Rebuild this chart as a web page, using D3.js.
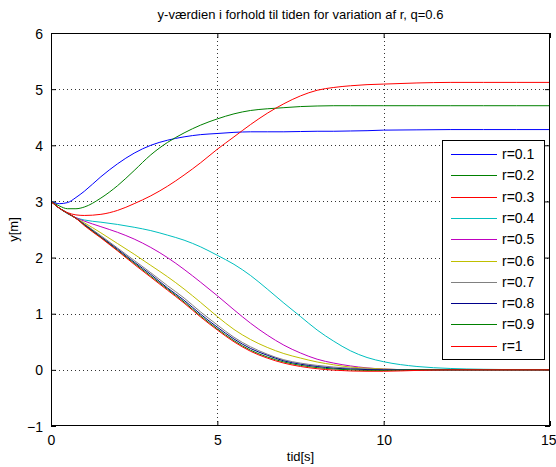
<!DOCTYPE html>
<html><head><meta charset="utf-8">
<script src="https://cdn.jsdelivr.net/npm/d3@7/dist/d3.min.js"></script>
<style>
body{margin:0;background:#fff;}
text{font-family:"Liberation Sans",Arial,sans-serif;fill:#000;}
</style></head>
<body><svg id="c" width="556" height="467"></svg>
<script>
const title = "y-værdien i forhold til tiden for variation af r, q=0.6";
const xLabel = "tid[s]";
const yLabel = "y[m]";
const xTicks = [0, 5, 10, 15];
const yTicks = [-1, 0, 1, 2, 3, 4, 5, 6];
const time = [0,0.25,0.5,0.75,1,1.5,2,2.5,3,3.5,4,4.5,5,5.5,6,6.5,7,7.5,8,8.5,9,9.5,10,11,12,13,14,15];
const seriesNames = ["r=0.1","r=0.2","r=0.3","r=0.4","r=0.5","r=0.6","r=0.7","r=0.8","r=0.9","r=1"];
const seriesColors = ["#0000ff","#008000","#ff0000","#00bfbf","#bf00bf","#bfbf00","#808080","#00008b","#008000","#ff0000"];
const r01 = [3.00,2.96,2.98,3.07,3.18,3.44,3.67,3.86,4.00,4.09,4.15,4.19,4.21,4.23,4.24,4.24,4.24,4.245,4.25,4.25,4.255,4.26,4.27,4.275,4.28,4.28,4.28,4.28];
const r02 = [3.00,2.92,2.87,2.87,2.90,3.06,3.28,3.55,3.83,4.05,4.22,4.36,4.47,4.56,4.62,4.65,4.67,4.69,4.70,4.705,4.705,4.705,4.705,4.705,4.705,4.705,4.705,4.705];
const r03 = [3.00,2.88,2.80,2.76,2.75,2.77,2.84,2.96,3.10,3.27,3.47,3.69,3.93,4.15,4.37,4.57,4.74,4.88,4.98,5.03,5.06,5.08,5.09,5.11,5.12,5.12,5.12,5.12];
const r04 = [3.00,2.88,2.78,2.71,2.67,2.63,2.59,2.54,2.48,2.40,2.31,2.19,2.04,1.88,1.68,1.44,1.19,0.95,0.71,0.51,0.34,0.22,0.145,0.06,0.025,0.01,0.003,0];
const r05 = [3.00,2.88,2.79,2.71,2.65,2.55,2.45,2.33,2.18,2.00,1.79,1.56,1.32,1.07,0.83,0.62,0.44,0.30,0.19,0.12,0.07,0.035,0.015,0,0,0,0,0];
const r06 = [3.00,2.88,2.79,2.70,2.62,2.44,2.25,2.06,1.86,1.66,1.44,1.20,0.95,0.72,0.54,0.40,0.29,0.21,0.14,0.09,0.05,0.03,0.015,0,0,0,0,0];
const r07 = [3.00,2.88,2.79,2.70,2.60,2.39,2.17,1.95,1.73,1.50,1.28,1.03,0.80,0.58,0.41,0.28,0.18,0.12,0.08,0.05,0.03,0.015,0.005,0,0,0,0,0];
const r08 = [3.00,2.88,2.79,2.70,2.59,2.37,2.15,1.92,1.70,1.46,1.24,0.99,0.76,0.55,0.38,0.26,0.16,0.10,0.06,0.03,0.015,0.005,0,0,0,0,0,0];
const r09 = [3.00,2.88,2.79,2.70,2.58,2.36,2.13,1.90,1.67,1.44,1.21,0.96,0.73,0.52,0.35,0.23,0.14,0.08,0.04,0.015,0,-0.01,-0.01,0,0,0,0,0];
const r10 = [3.00,2.88,2.79,2.70,2.57,2.35,2.12,1.88,1.65,1.42,1.19,0.94,0.71,0.50,0.33,0.21,0.12,0.06,0.02,-0.005,-0.02,-0.025,-0.025,-0.01,0,0,0,0];
const seriesValues = [r01,r02,r03,r04,r05,r06,r07,r08,r09,r10];

const svg = d3.select("#c");
const L = 51, R = 550, T = 33, B = 426;
const x = d3.scaleLinear().domain([0,15]).range([L,R]);
const y = d3.scaleLinear().domain([-1,6]).range([B,T]);

// grid
const g = svg.append("g");
g.selectAll("line.gx").data(xTicks.slice(1,-1)).enter().append("line")
  .attr("x1",d=>Math.round(x(d))+0.5).attr("x2",d=>Math.round(x(d))+0.5)
  .attr("y1",T).attr("y2",B).attr("stroke","#333").attr("stroke-dasharray","1,3");
g.selectAll("line.gy").data(yTicks.slice(1,-1)).enter().append("line")
  .attr("y1",d=>Math.round(y(d))+0.5).attr("y2",d=>Math.round(y(d))+0.5)
  .attr("x1",L).attr("x2",R).attr("stroke","#333").attr("stroke-dasharray","1,3");

// axes (MATLAB style, inward ticks, box)
const tick = 5;
const fs = 14;
const ax = svg.append("g").attr("transform",`translate(0,${B})`)
  .call(d3.axisBottom(x).tickValues(xTicks).tickSize(-tick).tickPadding(tick+4).tickFormat(d3.format("d")));
const axT = svg.append("g").attr("transform",`translate(0,${T})`)
  .call(d3.axisTop(x).tickValues(xTicks).tickSize(-tick).tickFormat(""));
const ay = svg.append("g").attr("transform",`translate(${L},0)`)
  .call(d3.axisLeft(y).tickValues(yTicks).tickSize(-tick).tickPadding(tick+3).tickFormat(d3.format("d")));
const ayR = svg.append("g").attr("transform",`translate(${R},0)`)
  .call(d3.axisRight(y).tickValues(yTicks).tickSize(-tick).tickFormat(""));
[ax,axT,ay,ayR].forEach(a=>{
  a.select(".domain").remove();
  a.selectAll("line").attr("stroke","#000");
  a.selectAll("text").style("font-family","'Liberation Sans',Arial,sans-serif").style("font-size",fs+"px").attr("fill","#000");
});
ay.selectAll("text").attr("dy","0.36em");
// last x tick label: keep inside the picture like the reference (partly at edge)
ax.selectAll("text").filter(d=>d===15).attr("text-anchor","end").attr("dx","6");

// lines
const line = d3.line().x((d,i)=>x(time[i])).y(d=>y(d)).curve(d3.curveMonotoneX);
const lg = svg.append("g");
seriesValues.forEach((vals,k)=>{
  lg.append("path").datum(vals).attr("d",line).attr("fill","none")
    .attr("stroke",seriesColors[k]).attr("stroke-width",1);
});

// box
svg.append("rect").attr("x",L+0.5).attr("y",T+0.5).attr("width",R-L-1).attr("height",B-T-1)
  .attr("fill","none").attr("stroke","#000").attr("stroke-width",1);

// labels
svg.append("text").attr("x",(L+R)/2).attr("y",19).attr("text-anchor","middle").style("font-size","13px").text(title);
svg.append("text").attr("x",(L+R)/2).attr("y",461).attr("text-anchor","middle").style("font-size","13px").text(xLabel);
svg.append("text").attr("transform",`translate(18,${(T+B)/2}) rotate(-90)`).attr("text-anchor","middle").style("font-size","13px").text(yLabel);

// legend
const legX = 442, legY = 140, legW = 102, legH = 219, rowH = 21.3;
const leg = svg.append("g");
leg.append("rect").attr("x",legX+0.5).attr("y",legY+0.5).attr("width",legW).attr("height",legH)
  .attr("fill","#fff").attr("stroke","#000");
seriesNames.forEach((n,k)=>{
  const cy = legY + 14 + k*rowH;
  leg.append("line").attr("x1",legX+9).attr("x2",legX+55).attr("y1",Math.round(cy)+0.5).attr("y2",Math.round(cy)+0.5)
    .attr("stroke",seriesColors[k]).attr("stroke-width",1);
  leg.append("text").attr("x",legX+60).attr("y",cy).attr("dy","0.36em").style("font-size",fs+"px").text(n);
});
</script></body></html>
